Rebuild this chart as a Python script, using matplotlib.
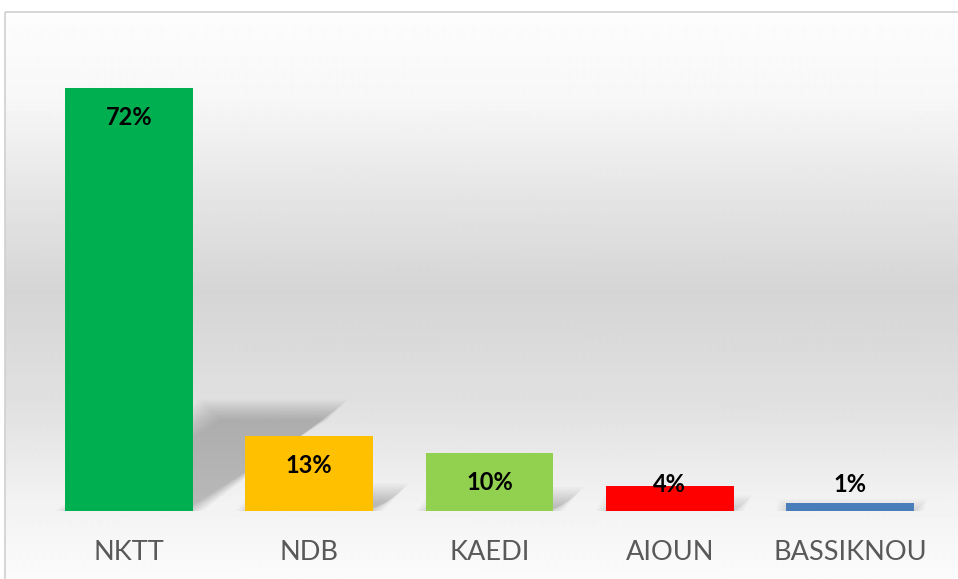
import numpy as np
import matplotlib.pyplot as plt
from matplotlib.patches import Polygon, Rectangle

# donnees
regions = ['NKTT', 'NDB', 'KAEDI', 'AIOUN', 'BASSIKNOU']
parts = [72, 12.8, 9.9, 4.2, 1.4]
etiquettes = ['72%', '13%', '10%', '4%', '1%']
couleurs = ['#00b050', '#ffc000', '#92d050', '#ff0000', '#4a7ebb']

W, H = 958, 579
fig = plt.figure(figsize=(W / 100, H / 100), dpi=100)

# fond degrade + cadre
fond = fig.add_axes([0, 0, 1, 1])
fond.axis('off')
ys = np.arange(11, 590)
gris = np.interp(ys, [11, 100, 200, 290, 400, 500, 585],
                 [253, 247, 228, 213, 224, 242, 252]) / 255.
grad = np.repeat(gris[:, None], 2, axis=1)
fond.imshow(grad, cmap='gray', vmin=0, vmax=1, aspect='auto',
            extent=(5.5, 965, 590, 11.5), interpolation='bilinear')
fond.add_patch(Rectangle((5.5, 11.5), 960, 580, fill=False,
                         edgecolor='#d0d0d0', lw=1.2))
fond.set_xlim(0, W)
fond.set_ylim(H, 0)

# axes du graphique
base, px_pct = 511, 5.875
ymax = 80
x0, x1 = 129 - 90.15, 850 + 90.15
ax = fig.add_axes([x0 / W, (H - base) / H, (x1 - x0) / W, ymax * px_pct / H])
ax.set_xlim(-0.5, 4.5)
ax.set_ylim(0, ymax)
ax.patch.set_alpha(0)
for s in ax.spines.values():
    s.set_visible(False)

larg = 0.71
dxp = 1 / 180.3     # 1 pixel en unites categorie
dyp = 1 / px_pct    # 1 pixel en %
k, s_ = 0.24, 0.0112

# ombres en perspective (floues)
for i, v in enumerate(parts):
    for d in np.linspace(-10, 10, 15):
        g = i - larg / 2 - d * dxp
        dr = i + larg / 2 + d * dxp
        sh = s_ * v
        top = k * v + d * dyp
        if top <= 0:
            continue
        poly = Polygon([(g, 0), (dr, 0), (dr + sh, top), (g + sh, top)],
                       closed=True, facecolor='black', edgecolor='none',
                       alpha=0.017, zorder=1)
        ax.add_patch(poly)

ax.bar(range(len(regions)), parts, width=larg, color=couleurs, zorder=3)

for i, (v, t) in enumerate(zip(parts, etiquettes)):
    ax.text(i, max(v - 5.1, 4.5), t, ha='center', va='center',
            fontsize=17, fontweight='bold', family=['Lato', 'DejaVu Sans'],
            color='black', zorder=5)

ax.set_yticks([])
ax.set_xticks(range(len(regions)))
ax.set_xticklabels(regions, fontsize=19.5, color='#595959',
                   family=['Lato', 'DejaVu Sans'])
ax.tick_params(axis='x', length=0, pad=21)

plt.savefig('out.png', dpi=100)
